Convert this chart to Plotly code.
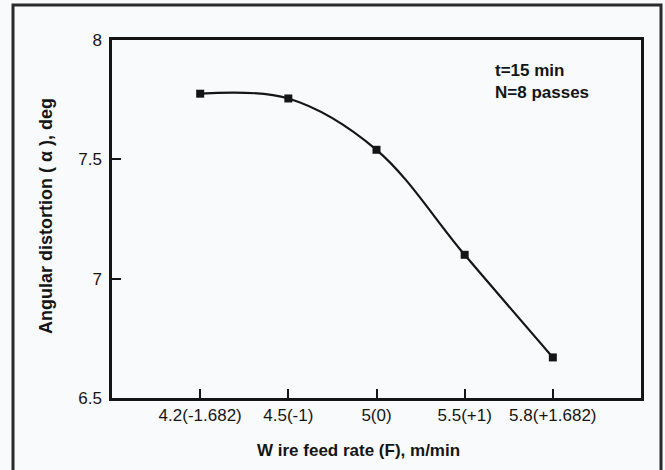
import plotly.graph_objects as go

# Data
feed_labels = ["4.2(-1.682)", "4.5(-1)", "5(0)", "5.5(+1)", "5.8(+1.682)"]
feed_pos = [1, 2, 3, 4, 5]
distortion = [7.775, 7.755, 7.54, 7.10, 6.67]
y_ticks = [6.5, 7, 7.5, 8]
y_tick_text = ["6.5", "7", "7.5", "8"]

W, H = 665, 470
L, R, T, B = 112, 24, 40, 72
pw, ph = W - L - R, H - T - B

ink = "#151515"
bg = "#f9fafc"
font_main = "Liberation Sans, Arial, sans-serif"

fig = go.Figure()
fig.add_trace(go.Scatter(
    x=feed_pos, y=distortion,
    mode="lines+markers",
    line=dict(shape="spline", smoothing=1.0, color=ink, width=2.2),
    marker=dict(symbol="square", size=8, color=ink),
    hoverinfo="x+y",
    showlegend=False,
))

fig.update_layout(
    width=W, height=H,
    margin=dict(l=L, r=R, t=T, b=B, pad=0),
    paper_bgcolor=bg, plot_bgcolor=bg,
    font=dict(family=font_main, size=16, color=ink),
    xaxis=dict(
        range=[0, 6], tickmode="array", tickvals=feed_pos, ticktext=feed_labels,
        ticks="inside", ticklen=9, tickwidth=2, tickcolor=ink,
        showline=True, linewidth=2.5, linecolor=ink, mirror=True,
        showgrid=False, zeroline=False,
        tickfont=dict(family=font_main, size=17, color=ink),
    ),
    yaxis=dict(
        range=[6.5, 8], tickmode="array", tickvals=y_ticks, ticktext=y_tick_text,
        ticks="inside", ticklen=9, tickwidth=2, tickcolor=ink,
        showline=True, linewidth=2.5, linecolor=ink, mirror=True,
        showgrid=False, zeroline=False,
        tickfont=dict(family=font_main, size=17, color=ink),
        ticklabelstandoff=4,
    ),
)

# Axis titles
fig.add_annotation(
    text="<b>W ire feed rate (F), m/min</b>",
    xref="paper", yref="paper",
    x=(358 - L) / pw, y=-(450 - (T + ph)) / ph,
    showarrow=False, xanchor="center", yanchor="middle",
    font=dict(family=font_main, size=17, color=ink),
)
fig.add_annotation(
    text="<b>Angular distortion ( α ), deg</b>",
    xref="paper", yref="paper",
    x=(46 - L) / pw, y=(T + ph - 216) / ph,
    textangle=-90, showarrow=False, xanchor="center", yanchor="middle",
    font=dict(family=font_main, size=18, color=ink),
)

# Condition note
fig.add_annotation(
    text="<b>t=15 min<br>N=8 passes</b>",
    xref="paper", yref="paper",
    x=(493 - L) / pw, y=(T + ph - 59) / ph,
    showarrow=False, xanchor="left", yanchor="top", align="left",
    font=dict(family=font_main, size=17, color=ink),
)

# Outer frame of the figure
fig.add_shape(
    type="rect", xref="paper", yref="paper",
    x0=(13 - L) / pw, x1=(661 - L) / pw,
    y0=-(H + 10 - (T + ph)) / ph, y1=(T + ph - 5) / ph,
    line=dict(color="#2a2a2a", width=3), fillcolor="rgba(0,0,0,0)",
    layer="below",
)

fig.write_html(
    "out.html",
    config={"displayModeBar": False},
    post_script="document.body.style.margin='0';document.body.style.overflow='hidden';",
)
